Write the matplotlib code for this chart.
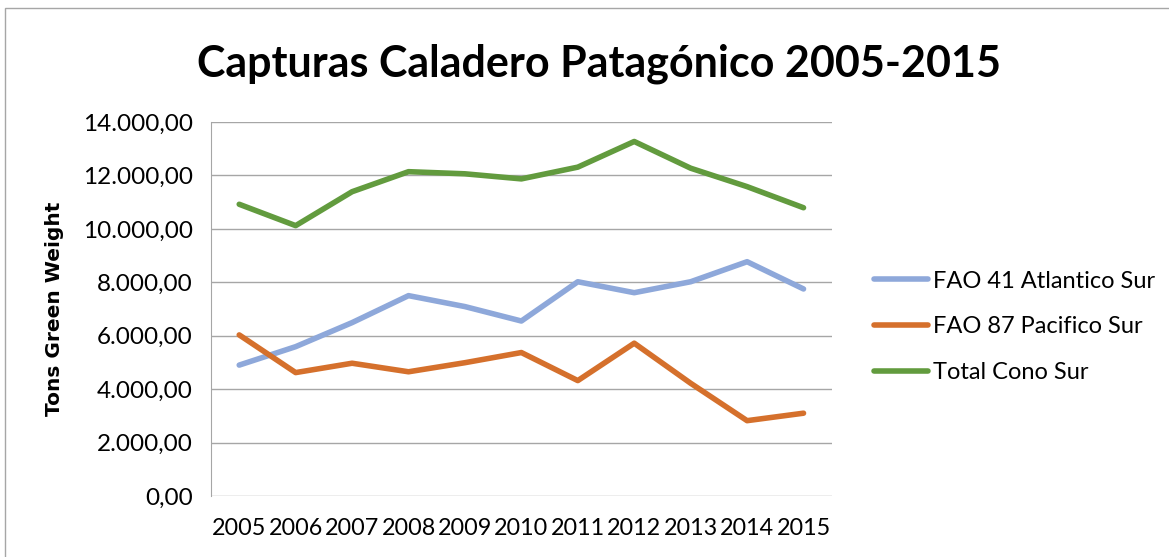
import matplotlib
matplotlib.use("Agg")
import matplotlib.pyplot as plt
from matplotlib.patches import Rectangle
from matplotlib.ticker import FuncFormatter

years = [2005, 2006, 2007, 2008, 2009, 2010, 2011, 2012, 2013, 2014, 2015]
fao41_atlantico = [4900, 5590, 6490, 7500, 7090, 6550, 8020, 7610, 8020, 8770, 7750]
fao87_pacifico = [6030, 4620, 4970, 4650, 4990, 5370, 4320, 5720, 4220, 2820, 3100]
total_cono_sur = [10920, 10120, 11390, 12140, 12060, 11870, 12310, 13270, 12270, 11580, 10790]

series_names = ["FAO 41 Atlantico Sur", "FAO 87 Pacifico Sur", "Total Cono Sur"]
series_colors = ["#8EA8DA", "#D5702C", "#629B3E"]


def es_format(v, pos):
    # 14000 -> "14.000,00"
    s = f"{v:,.2f}"
    return s.replace(",", "X").replace(".", ",").replace("X", ".")


plt.rcParams["font.family"] = ["Lato", "DejaVu Sans"]

fig = plt.figure(figsize=(11.69, 5.57), dpi=100)
ax = fig.add_axes([0.1805, 0.1095, 0.531, 0.6715])

for vals, name, col in zip([fao41_atlantico, fao87_pacifico, total_cono_sur],
                           series_names, series_colors):
    ax.plot(years, vals, color=col, linewidth=4, label=name, solid_capstyle="round")

ax.set_ylim(0, 14000)
ax.set_yticks(range(0, 14001, 2000))
ax.yaxis.set_major_formatter(FuncFormatter(es_format))
ax.set_xlim(2004.5, 2015.5)
ax.set_xticks(years)
ax.tick_params(axis="y", length=0, labelsize=17.5, colors="#000000", pad=13)
ax.tick_params(axis="x", length=0, labelsize=16.8, colors="#000000", pad=16)
ax.grid(axis="y", color="#A6A6A6", linewidth=1)
ax.set_axisbelow(True)
for side in ["top", "right", "bottom"]:
    ax.spines[side].set_visible(False)
ax.spines["left"].set_color("#A6A6A6")

ax.set_ylabel("Tons Green Weight", fontsize=14.5, fontweight="bold",
              family=["DejaVu Sans"], labelpad=14)

fig.text(0.512, 0.885, "Capturas Caladero Patagónico 2005-2015",
         ha="center", va="center", fontsize=31, fontweight="bold")

ax.legend(loc="center left", bbox_to_anchor=(1.0676, 0.452), frameon=False,
          fontsize=17, handlelength=2.3, labelspacing=1.05, handletextpad=0.2,
          borderaxespad=0, borderpad=0)

fig.patches.append(Rectangle((0.004, -0.05), 1.2, 1.035, transform=fig.transFigure,
                             fill=False, edgecolor="#A6A6A6", linewidth=1))

fig.savefig("out.png", dpi=100)
